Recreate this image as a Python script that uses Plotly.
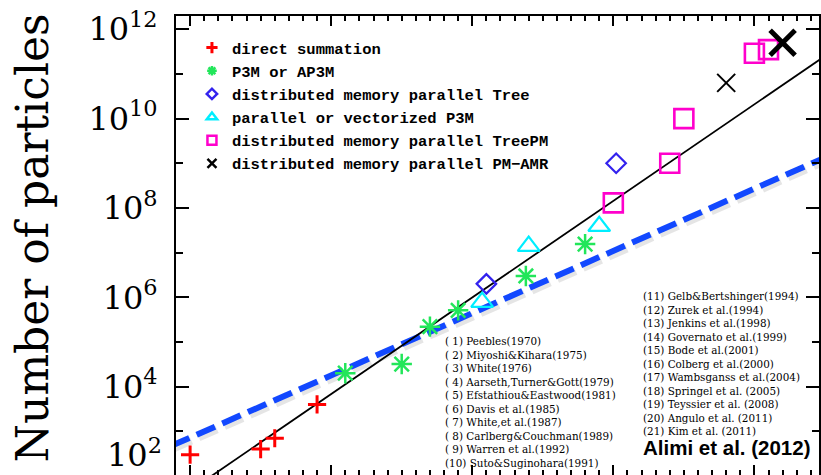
import plotly.graph_objects as go

# ---------------- data ----------------
direct_years = [1970, 1975, 1976, 1979]
direct_n = [300, 400, 700, 4000]

p3m_years = [1981, 1985, 1987, 1989, 1993.8, 1998]
p3m_n = [2.0e4, 3.2e4, 2.2e5, 5.1e5, 3.0e6, 1.55e7]

tree_years = [1991, 2000.2]
tree_n = [2.0e6, 1.0e9]

pp3m_years = [1990.7, 1994, 1999]
pp3m_n = [7.8e5, 1.4e7, 3.9e7]

treepm_years = [2000, 2004, 2005, 2010, 2011]
treepm_n = [1.3e8, 1.0e9, 1.0e10, 2.9e11, 3.5e11]

amr_years = [2008]
amr_n = [6.3e10]

alimi_years = [2012]
alimi_n = [5.0e11]

fit_years = [1969, 2015]
fit_n = [10 ** 1.456, 10 ** 11.40]

moore_years = [1968.65, 2015]
moore_n = [10 ** 2.671, 10 ** 9.128]

legend_names = [
    "direct summation",
    "P3M or AP3M",
    "distributed memory parallel Tree",
    "parallel or vectorized P3M",
    "distributed memory parallel TreePM",
    "distributed memory parallel PM\u2212AMR",
]

refs_left = [
    "( 1) Peebles(1970)",
    "( 2) Miyoshi&amp;Kihara(1975)",
    "( 3) White(1976)",
    "( 4) Aarseth,Turner&amp;Gott(1979)",
    "( 5) Efstathiou&amp;Eastwood(1981)",
    "( 6) Davis et al.(1985)",
    "( 7) White,et al.(1987)",
    "( 8) Carlberg&amp;Couchman(1989)",
    "( 9) Warren et al.(1992)",
    "(10) Suto&amp;Suginohara(1991)",
]
refs_right = [
    "(11) Gelb&amp;Bertshinger(1994)",
    "(12) Zurek et al.(1994)",
    "(13) Jenkins et al.(1998)",
    "(14) Governato et al.(1999)",
    "(15) Bode et al.(2001)",
    "(16) Colberg et al.(2000)",
    "(17) Wambsganss et al.(2004)",
    "(18) Springel et al. (2005)",
    "(19) Teyssier et al. (2008)",
    "(20) Angulo et al. (2011)",
    "(21) Kim et al. (2011)",
]
credit = "Alimi et al. (2012)"

ytick_vals = [1e4, 1e6, 1e8, 1e10, 1e12]
ytick_text = ["10<sup>4</sup>", "10<sup>6</sup>", "10<sup>8</sup>", "10<sup>10</sup>", "10<sup>12</sup>"]
yminor_vals = [1e3, 1e5, 1e7, 1e9, 1e11]

# ---------------- styles ----------------
RED = "#ff0000"
GREEN = "#22e65a"
BLUE = "#3322ee"
CYAN = "#00eeff"
MAGENTA = "#ff00cc"
BLACK = "#000000"
SERIF = "DejaVu Serif"

fig = go.Figure()

# soft shadow of the dashed line
fig.add_trace(go.Scatter(
    x=[v + 0.15 for v in moore_years], y=[v * 10 ** -0.06 for v in moore_n],
    mode="lines", line=dict(color="rgba(0,0,0,0.10)", width=8, dash="20px,8px"),
    showlegend=False, hoverinfo="skip"))
fig.add_trace(go.Scatter(
    x=moore_years, y=moore_n, mode="lines",
    line=dict(color="#1248ff", width=6, dash="20px,8px"),
    showlegend=False, hoverinfo="skip"))
fig.add_trace(go.Scatter(
    x=fit_years, y=fit_n, mode="lines",
    line=dict(color=BLACK, width=1.8),
    showlegend=False, hoverinfo="skip"))

series = [
    (direct_years, direct_n, "cross-thin", RED, 13, 3, 8, 3),
    (p3m_years, p3m_n, "asterisk-open", GREEN, 17, 2.5, 8, 2.5),
    (tree_years, tree_n, "diamond-open", BLUE, 15, 2.2, 8, 2.5),
    (pp3m_years, pp3m_n, "triangle-up-open", CYAN, 19, 2.2, 9, 2.5),
    (treepm_years, treepm_n, "square-open", MAGENTA, 19, 2.6, 9, 2.5),
    (amr_years, amr_n, "x-thin", BLACK, 18, 2, 9, 2.5),
]
for i, (xs, ys, sym, col, size, lw, lsize, llw) in enumerate(series):
    fig.add_trace(go.Scatter(
        x=xs, y=ys, mode="markers",
        marker=dict(symbol=sym, color=col, size=size, line=dict(color=col, width=lw)),
        showlegend=False, hoverinfo="skip"))
    # legend entry (no data points)
    fig.add_trace(go.Scatter(
        x=[None], y=[None], mode="markers", name=legend_names[i],
        legendgroup="g%d" % i,
        marker=dict(symbol=sym, color=col, size=lsize, line=dict(color=col, width=llw))))

fig.add_trace(go.Scatter(
    x=alimi_years, y=alimi_n, mode="markers",
    marker=dict(symbol="x-thin", color=BLACK, size=25, line=dict(color=BLACK, width=5)),
    showlegend=False, hoverinfo="skip"))

L, T, W, H = 176, 16, 821, 475
PW, PH = W - L, H - T


def px(x):
    return (x - L) / PW


def py(y):
    return (H - y) / PH


annotations = [
    dict(text="Number of particles", textangle=-90, x=px(33), y=py(238),
         xref="paper", yref="paper", showarrow=False,
         font=dict(family=SERIF, size=44, color=BLACK), xanchor="center", yanchor="middle"),
    dict(text="10<sup>2</sup>", x=px(164), y=py(453), xref="paper", yref="paper",
         showarrow=False, font=dict(family=SERIF, size=32, color=BLACK),
         xanchor="right", yanchor="middle"),
    dict(text="<br>".join(refs_left), x=px(444), y=py(333), xref="paper", yref="paper",
         showarrow=False, align="left", xanchor="left", yanchor="top",
         font=dict(family=SERIF, size=10.4, color=BLACK)),
    dict(text="<br>".join(refs_right), x=px(642), y=py(288), xref="paper", yref="paper",
         showarrow=False, align="left", xanchor="left", yanchor="top",
         font=dict(family=SERIF, size=10.4, color=BLACK)),
    dict(text="<b>%s</b>" % credit, x=px(642), y=py(447), xref="paper", yref="paper",
         showarrow=False, align="left", xanchor="left", yanchor="middle",
         font=dict(family="Liberation Sans", size=20.5, color=BLACK)),
]

fig.update_layout(
    width=W, height=H,
    margin=dict(l=L, r=0, t=T, b=0, pad=0),
    paper_bgcolor="white", plot_bgcolor="white",
    font=dict(family=SERIF, color=BLACK),
    annotations=annotations,
    legend=dict(x=px(192), y=py(31), xanchor="left", yanchor="top",
                bgcolor="rgba(0,0,0,0)", borderwidth=0,
                font=dict(family="Liberation Mono", size=15.5, color=BLACK, weight="bold"),
                itemsizing="trace", tracegroupgap=0, traceorder="normal"),
    xaxis=dict(range=[1969, 2014.58], showgrid=False, zeroline=False,
               showline=True, linecolor=BLACK, linewidth=2, mirror="ticks",
               ticks="inside", ticklen=10, tickwidth=2, tickcolor=BLACK,
               tick0=1970, dtick=10, showticklabels=False,
               minor=dict(ticks="inside", ticklen=5, tickwidth=1.5, tickcolor=BLACK,
                          tick0=1970, dtick=1, showgrid=False)),
    yaxis=dict(type="log", range=[2.022, 12.297], showgrid=False, zeroline=False,
               showline=True, linecolor=BLACK, linewidth=2, mirror="ticks",
               ticks="inside", ticklen=13, tickwidth=2, tickcolor=BLACK,
               tickmode="array", tickvals=ytick_vals, ticktext=ytick_text,
               tickfont=dict(family=SERIF, size=32, color=BLACK),
               ticklabelstandoff=10,
               minor=dict(ticks="inside", ticklen=7, tickwidth=2, tickcolor=BLACK,
                          tickmode="array", tickvals=yminor_vals, showgrid=False)),
)

fig.write_html("out.html", config={"displayModeBar": False})
